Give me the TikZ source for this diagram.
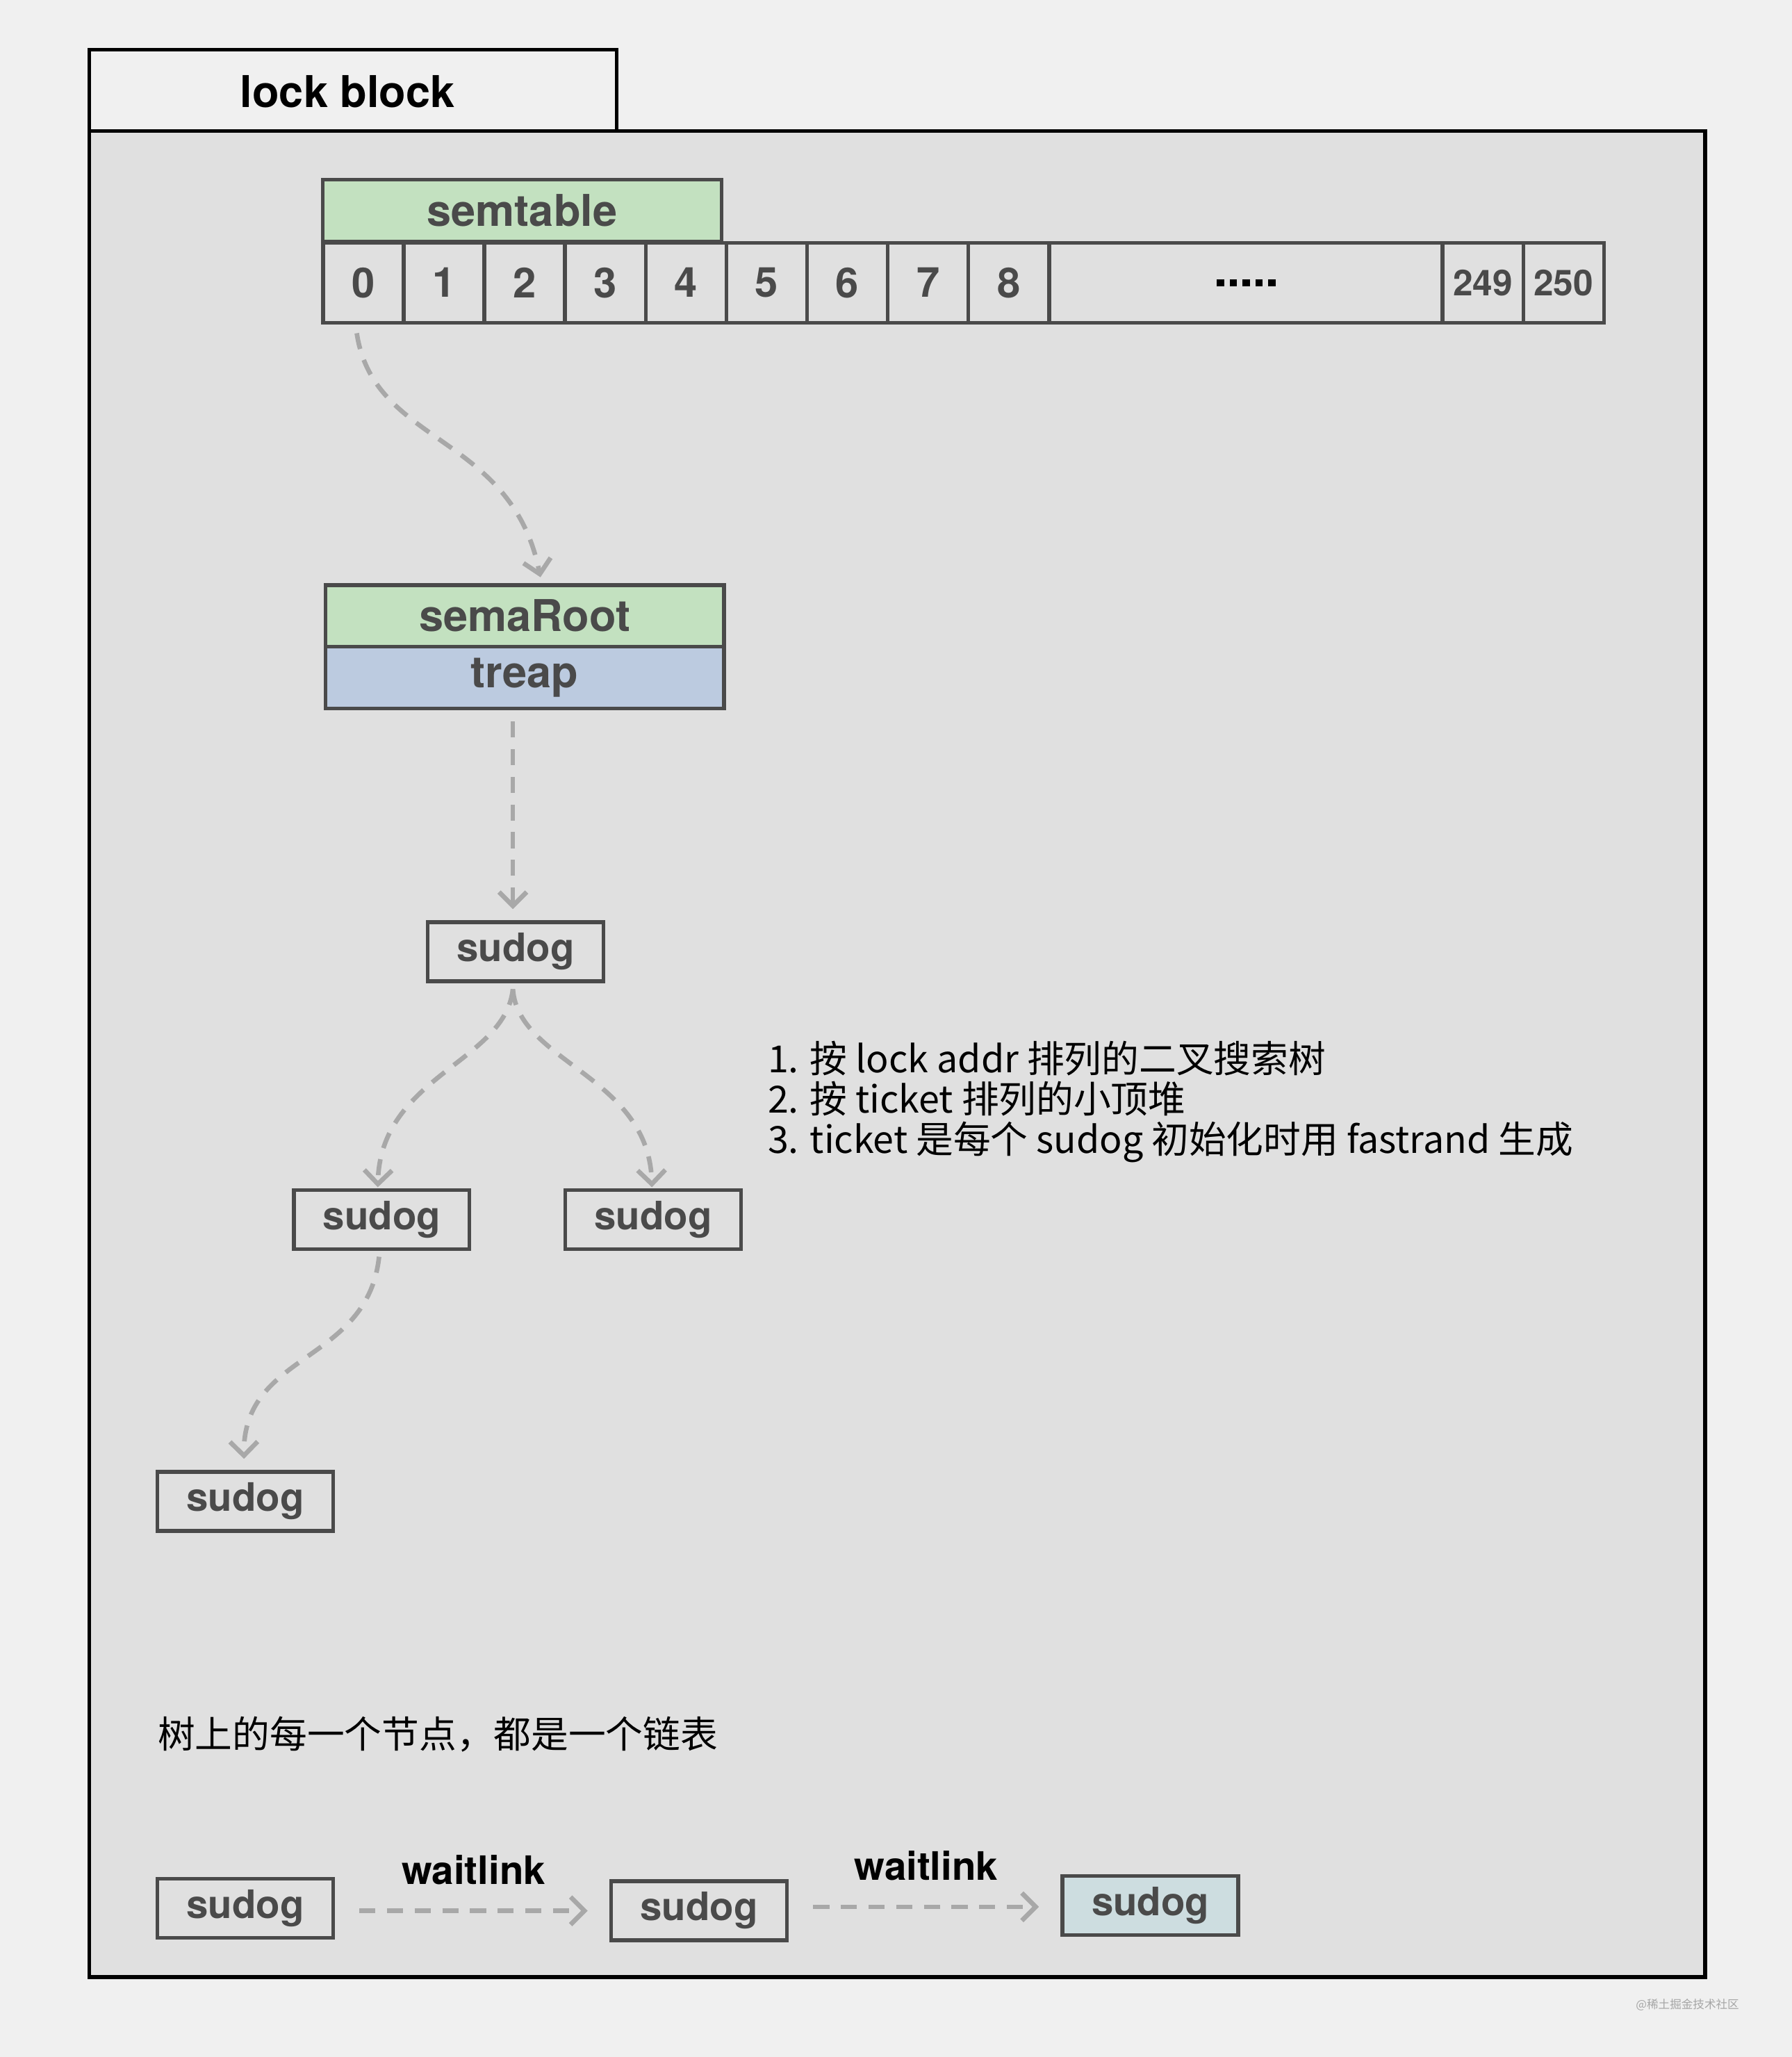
\documentclass[tikz,border=0pt]{standalone}
\usepackage{fontspec}
\setmainfont{TeX Gyre Heros}
\newfontfamily\cjk{Noto Sans CJK SC}
\usetikzlibrary{arrows.meta, positioning, calc}
\definecolor{pagebg}{HTML}{F0F0F0}
\definecolor{boxbg}{HTML}{E0E0E0}
\definecolor{edge}{HTML}{4A4A4A}
\definecolor{semgreen}{HTML}{C3E1C0}
\definecolor{treapblue}{HTML}{BCCBE0}
\definecolor{lastblue}{HTML}{CDDDE0}
\definecolor{dashgray}{HTML}{A8A8A8}
\tikzstyle{cell} = [rectangle, draw=edge, line width=1.6pt, inner sep=0pt, outer sep=0pt, minimum width=1.23cm, minimum height=1.22cm, font=\fontsize{18}{21}\selectfont\bfseries, text=edge]
\tikzstyle{header} = [rectangle, draw=edge, line width=1.6pt, inner sep=0pt, outer sep=0pt, minimum width=6.08cm, minimum height=0.94cm, font=\fontsize{19}{22}\selectfont\bfseries, text=edge]
\tikzstyle{sudogbox} = [rectangle, draw=edge, line width=1.6pt, fill=boxbg, inner sep=0pt, outer sep=0pt, minimum width=2.68cm, minimum height=0.9cm, font=\fontsize{17}{20}\selectfont\bfseries, text=edge]
\tikzstyle{link} = [dashgray, line width=2pt, dash pattern=on 7pt off 5pt, -{Straight Barb[length=6pt, width=12pt, line width=2pt]}]
\newcommand{\dotrow}{\foreach \k in {1,...,5}{\rule{3.2pt}{3.2pt}\hspace{2.4pt}}}
\begin{document}
\begin{tikzpicture}[x=0.02cm, y=-0.02cm]
    % page and frame
    \fill[pagebg] (0,0) rectangle (1366,1568);
    \draw[line width=1.6pt, fill=boxbg] (68,100) rectangle (1300,1507);
    \draw[line width=1.6pt, fill=pagebg] (68,38) rectangle (470,100);
    \node (Title) at (265,70) {\fontsize{19}{22}\selectfont\bfseries lock block};
    % semtable
    \node (SemTable) [header, fill=semgreen] at (398,160.5) {semtable};
    \foreach \i in {0,...,8}
        \node (c\i) [cell] at (277+61.5*\i,215.5) {\i};
    \node (cDots) [cell, minimum width=6cm, text=black] at (950,215.5) {\dotrow};
    \node (c249) [cell, font=\fontsize{15.5}{18}\selectfont\bfseries] at (1130.5,215.5) {249};
    \node (c250) [cell, font=\fontsize{15.5}{18}\selectfont\bfseries] at (1192,215.5) {250};
    % semaRoot
    \node (SemaRoot) [header, fill=semgreen] at (400,469.5) {semaRoot};
    \node (Treap) [header, fill=treapblue, below = 0pt of SemaRoot] {treap};
    % tree
    \node (Root) [sudogbox] at (393,725.5) {sudog};
    \node (Left) [sudogbox] at (291,929.5) {sudog};
    \node (Right) [sudogbox] at (498,929.5) {sudog};
    \node (LeftLeft) [sudogbox] at (187,1144.5) {sudog};
    \draw [link] ($(c0.south)+(-5,8)$) .. controls (285,340) and (390,330) .. ($(SemaRoot.north)+(12,-6)$);
    \draw [link] ($(Treap.south)+(-9,10)$) -- ($(Root.north)+(-2,-10)$);
    \draw [link] ($(Root.south)+(-2,6)$) .. controls (385,810) and (290,820) .. ($(Left.north)+(-3,-2)$);
    \draw [link] ($(Root.south)+(-2,6)$) .. controls (395,810) and (495,820) .. ($(Right.north)+(-1,-2)$);
    \draw [link] ($(Left.south)+(-2,6)$) .. controls (280,1040) and (185,1030) .. ($(LeftLeft.north)+(-1,-10)$);
    % notes
    \node (Notes) [anchor=north west, align=left, inner sep=0pt, font=\cjk\fontsize{16.2}{17.6}\selectfont] at (585,793)
        {1. 按 lock addr 排列的二叉搜索树\\2. 按 ticket 排列的小顶堆\\3. ticket 是每个 sudog 初始化时用 fastrand 生成};
    \node (ListNote) [anchor=west, inner sep=0pt, font=\cjk\fontsize{16.2}{18}\selectfont] at (120,1322) {树上的每一个节点，都是一个链表};
    % wait list
    \node (W1) [sudogbox] at (187,1454.5) {sudog};
    \node (W2) [sudogbox] at (533,1456.5) {sudog};
    \node (W3) [sudogbox, fill=lastblue] at (877,1452.5) {sudog};
    \draw [link] ($(W1.east)+(20,2)$) -- node[above=7pt, black, font=\fontsize{17}{20}\selectfont\bfseries]{waitlink} ($(W2.west)+(-18,0)$);
    \draw [link] ($(W2.east)+(20,-3)$) -- node[above=7pt, black, font=\fontsize{17}{20}\selectfont\bfseries]{waitlink} ($(W3.west)+(-18,1)$);
    \node (Mark) [anchor=east, text=gray!70, font=\cjk\fontsize{5}{6}\selectfont] at (1332,1528) {@稀土掘金技术社区};
\end{tikzpicture}
\end{document}
